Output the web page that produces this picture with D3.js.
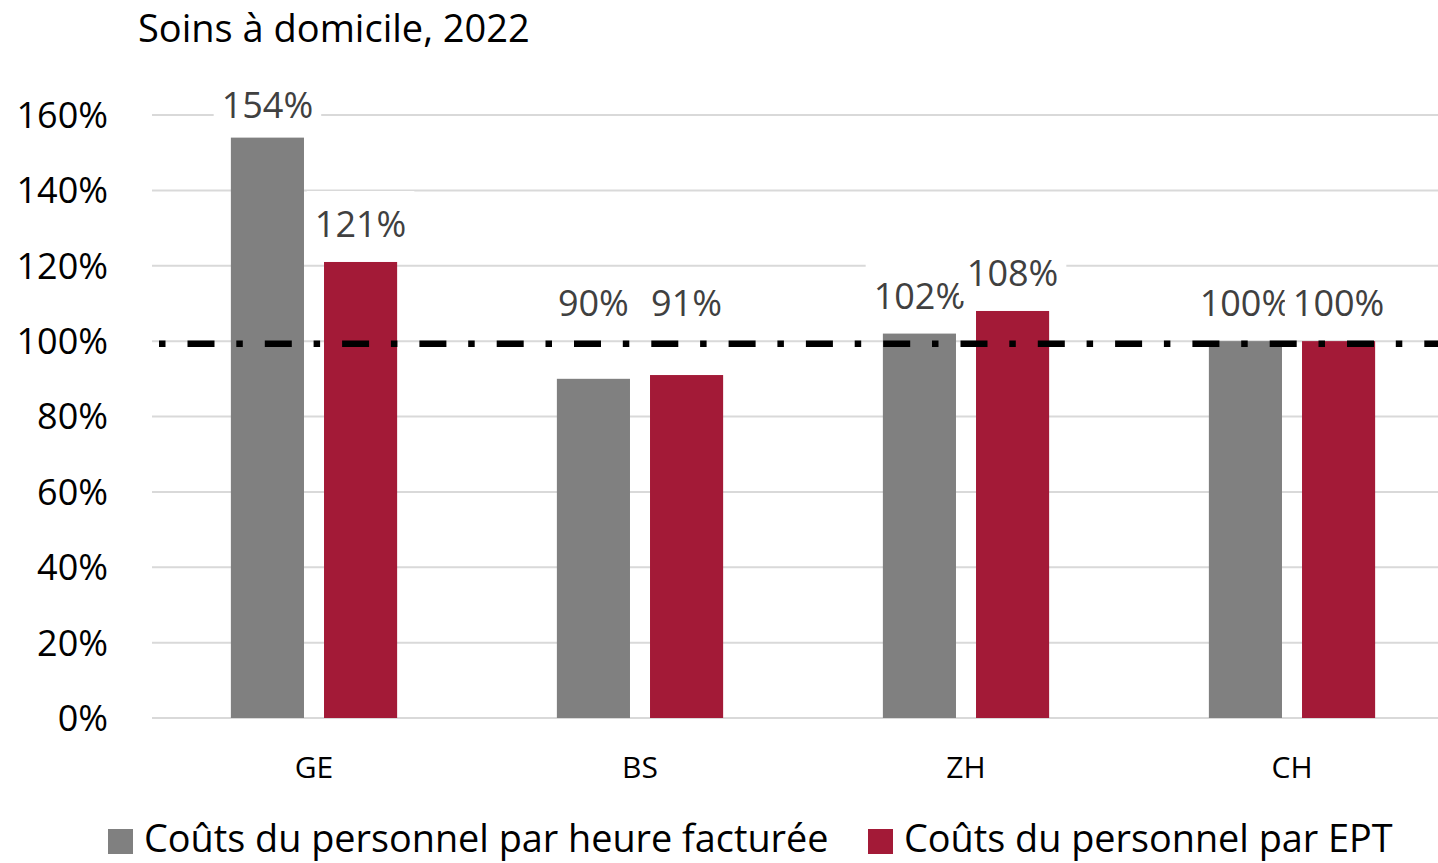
<!DOCTYPE html>
<html>
<head>
<meta charset="utf-8">
<script src="https://cdn.jsdelivr.net/npm/d3@7"></script>
<style>
  body { margin: 0; background: #fff; }
  svg text { font-family: "Open Sans", "Noto Sans", sans-serif; }
</style>
</head>
<body>
<svg id="chart" width="1438" height="863"></svg>
<script>
// ---- data ----------------------------------------------------------------
var title = "Soins à domicile, 2022";
var categories = ["GE", "BS", "ZH", "CH"];
var seriesNames = ["Coûts du personnel par heure facturée", "Coûts du personnel par EPT"];
var heureValues = [154, 90, 102, 100];   // par heure facturée (%)
var eptValues = [121, 91, 108, 100];     // par EPT (%)
var yTicks = [0, 20, 40, 60, 80, 100, 120, 140, 160];
var referenceValue = 100;

var colours = ["#808080", "#a31a37"];

// ---- layout --------------------------------------------------------------
var svg = d3.select("#chart");
var W = 1438;
var plotLeft = 151, plotRight = 1455, plotTop = 115, plotBottom = 718;

var y = d3.scaleLinear().domain([0, 160]).range([plotBottom, plotTop]);

var x0 = d3.scaleBand()
    .domain(categories)
    .range([plotLeft, plotRight])
    .paddingInner(0.49)
    .paddingOuter(0.245);

var x1 = d3.scaleBand()
    .domain([0, 1])
    .range([0, x0.bandwidth()])
    .paddingInner(20 / 93);

var rows = categories.map((c, i) => ({ cat: c, vals: [heureValues[i], eptValues[i]] }));

//-------------------------------------------------------------------------------
// title
svg.append("text")
    .attr("x", 138).attr("y", 42)
    .attr("font-size", 38)
    .attr("fill", "#000")
    .text(title);

// gridlines
svg.append("g").selectAll("line")
    .data(yTicks)
    .join("line")
    .attr("x1", 152).attr("x2", W)
    .attr("y1", d => y(d)).attr("y2", d => y(d))
    .attr("stroke", "#d9d9d9")
    .attr("stroke-width", 2);

// y axis tick labels
svg.append("g").selectAll("text")
    .data(yTicks)
    .join("text")
    .attr("x", 108)
    .attr("y", d => y(d))
    .attr("dy", "0.36em")
    .attr("text-anchor", "end")
    .attr("font-size", 36)
    .attr("fill", "#000")
    .text(d => d + "%");

// bars
var gCat = svg.append("g").selectAll("g")
    .data(rows)
    .join("g")
    .attr("transform", d => `translate(${x0(d.cat)},0)`);

gCat.selectAll("rect")
    .data(d => d.vals.map((v, k) => ({ k: k, v: v })))
    .join("rect")
    .attr("x", d => x1(d.k))
    .attr("width", x1.bandwidth())
    .attr("y", d => y(d.v))
    .attr("height", d => y(0) - y(d.v))
    .attr("fill", d => colours[d.k]);

// reference line (dash-dot), starts with a dot
svg.append("line")
    .attr("x1", 159).attr("x2", W)
    .attr("y1", y(referenceValue) + 2.5).attr("y2", y(referenceValue) + 2.5)
    .attr("stroke", "#000")
    .attr("stroke-width", 6.5)
    .attr("stroke-dasharray", "6.5,22,27,21.8");

// data labels: series by series, each with a white box (later ones cover earlier)
var gLab = svg.append("g");
[0, 1].forEach(k => {
    rows.forEach(r => {
        var v = r.vals[k];
        var cx = x0(r.cat) + x1(k) + x1.bandwidth() / 2;
        // labels sit above the bar, or above the reference line if the bar is below it
        var base = Math.max(y(Math.max(v, referenceValue)) - 25, plotTop + 3);
        var t = gLab.append("text")
            .attr("x", cx).attr("y", base)
            .attr("text-anchor", "middle")
            .attr("font-size", 36)
            .attr("fill", "#404040")
            .text(v + "%");
        var bb = t.node().getBBox();
        gLab.insert("rect", () => t.node())
            .attr("x", bb.x - 8).attr("y", base - 46)
            .attr("width", bb.width + 16).attr("height", 61)
            .attr("fill", "#fff");
    });
});

// category labels
svg.append("g").selectAll("text")
    .data(categories)
    .join("text")
    .attr("x", d => x0(d) + x0.bandwidth() / 2)
    .attr("y", 778)
    .attr("text-anchor", "middle")
    .attr("font-size", 30)
    .attr("fill", "#000")
    .text(d => d);

// legend
var legendX = [108, 868];
var gLeg = svg.append("g").selectAll("g")
    .data(seriesNames)
    .join("g")
    .attr("transform", (d, i) => `translate(${legendX[i]},0)`);
gLeg.append("rect")
    .attr("x", 0).attr("y", 829)
    .attr("width", 25).attr("height", 25)
    .attr("fill", (d, i) => colours[i]);
gLeg.append("text")
    .attr("x", 36).attr("y", 852)
    .attr("font-size", 37.8)
    .attr("fill", "#000")
    .text(d => d);
</script>
</body>
</html>
